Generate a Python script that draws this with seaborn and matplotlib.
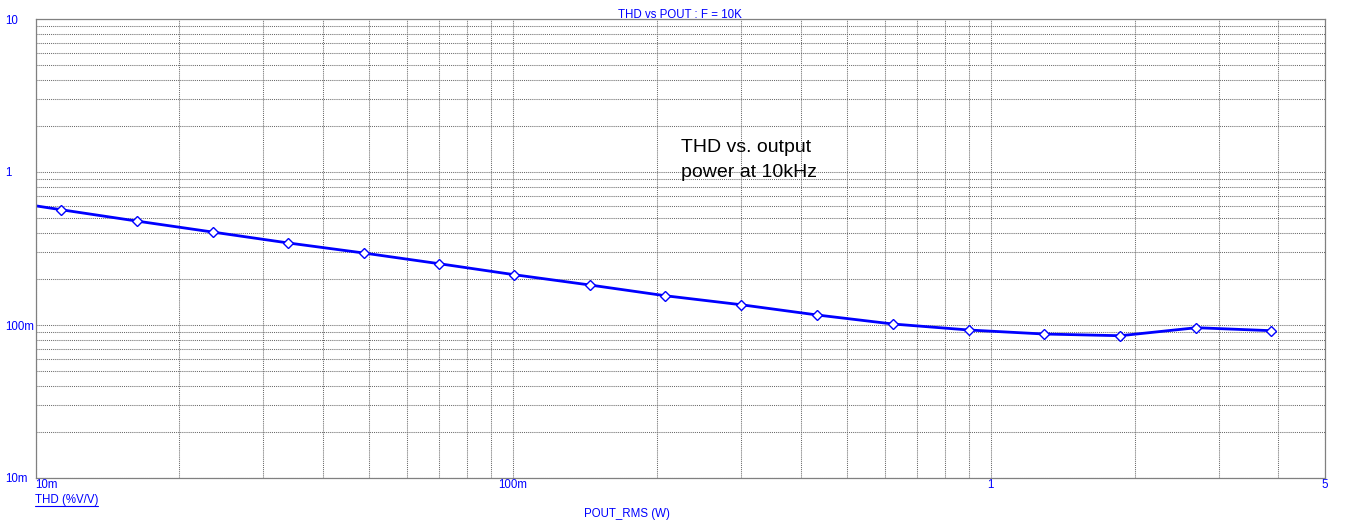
import matplotlib
matplotlib.use("Agg")
import matplotlib.pyplot as plt
import seaborn as sns
import numpy as np
import pandas as pd
from matplotlib.ticker import NullFormatter, LogLocator
from matplotlib.lines import Line2D

# ---- data ----
pout_w = [0.00785, 0.01131, 0.01629, 0.0235, 0.03375, 0.04866, 0.06997, 0.1004,
          0.1449, 0.2080, 0.2999, 0.4326, 0.6241, 0.9015, 1.294, 1.867, 2.692, 3.864]
thd_pct = [0.675, 0.567, 0.478, 0.405, 0.344, 0.2955, 0.2516, 0.2133,
           0.1825, 0.1554, 0.1357, 0.1163, 0.1015, 0.0927, 0.0873, 0.0851, 0.0960, 0.0918]

x_ticks = [0.01, 0.1, 1, 5]
x_ticklabels = ["10m", "100m", "1", "5"]
y_ticks = [0.01, 0.1, 1, 10]
y_ticklabels = ["10m", "100m", "1", "10"]

title = "THD vs POUT : F = 10K"
x_label = "POUT_RMS (W)"
trace_label = "THD (%V/V)"
note_lines = ["THD vs. output", "power at 10kHz"]

BLUE = "#0000FF"
GRAY = "#808080"
GRID = "#6a6a6a"

sns.set_theme(style="white")
plt.rcParams["font.family"] = ["Liberation Sans", "DejaVu Sans"]

W, H = 1353, 532
fig = plt.figure(figsize=(W / 100, H / 100), dpi=100)
fig.patch.set_facecolor("white")
L, R, T, B = 35.5, 1324.7, 19, 478
ax = fig.add_axes([L / W, 1 - B / H, (R - L) / W, (B - T) / H])
ax.set_facecolor("white")

ax.set_xscale("log")
ax.set_yscale("log")

df = pd.DataFrame({"pout": pout_w, "thd": thd_pct})
sns.lineplot(data=df, x="pout", y="thd", ax=ax, color=BLUE, linewidth=2.0,
             marker="D", markersize=5, markerfacecolor="white",
             markeredgecolor=BLUE, markeredgewidth=1.0, sort=False)

ax.set_xlim(0.01, 5)
ax.set_ylim(0.01, 10)

ax.xaxis.set_minor_locator(LogLocator(base=10, subs=np.arange(2, 10), numticks=100))
ax.yaxis.set_minor_locator(LogLocator(base=10, subs=np.arange(2, 10), numticks=100))
ax.xaxis.set_minor_formatter(NullFormatter())
ax.yaxis.set_minor_formatter(NullFormatter())

ax.set_xticks(x_ticks, x_ticklabels)
ax.set_yticks(y_ticks, y_ticklabels)

ax.grid(True, which="both", color=GRID, linestyle=(0, (1, 1)), linewidth=0.75)
ax.set_axisbelow(True)

ax.tick_params(which="both", length=0)
ax.tick_params(axis="x", pad=1, labelsize=8.3, labelcolor=BLUE)
ax.tick_params(axis="y", pad=22, labelsize=8.3, labelcolor=BLUE)
for lab in ax.get_yticklabels():
    lab.set_horizontalalignment("left")
ax.get_xticklabels()[0].set_horizontalalignment("left")

for sp in ax.spines.values():
    sp.set_visible(True)
    sp.set_color(GRAY)
    sp.set_linewidth(0.9)

ax.set_title(title, color=BLUE, fontsize=8.3, pad=1)
ax.set_xlabel(x_label, color=BLUE, fontsize=8.3)
ax.xaxis.label.set_verticalalignment("center")
ax.xaxis.set_label_coords((627 - L) / (R - L), (B - 513.5) / (B - T))
ax.set_ylabel("")

# trace name (underlined) below the axes
tl = fig.text(35 / W, 1 - 503.5 / H, trace_label, color=BLUE, fontsize=8.3,
              ha="left", va="baseline")
fig.canvas.draw()
bb = tl.get_window_extent()
fig.add_artist(Line2D([bb.x0 / W, bb.x1 / W], [1 - 505.8 / H, 1 - 505.8 / H],
                      transform=fig.transFigure, color=BLUE, linewidth=0.8))

# annotation
fig.text(681 / W, 1 - 151.7 / H, note_lines[0], color="black", fontsize=14,
         ha="left", va="baseline")
fig.text(681 / W, 1 - 176.7 / H, note_lines[1], color="black", fontsize=14,
         ha="left", va="baseline")

fig.savefig("out.png", dpi=100)
